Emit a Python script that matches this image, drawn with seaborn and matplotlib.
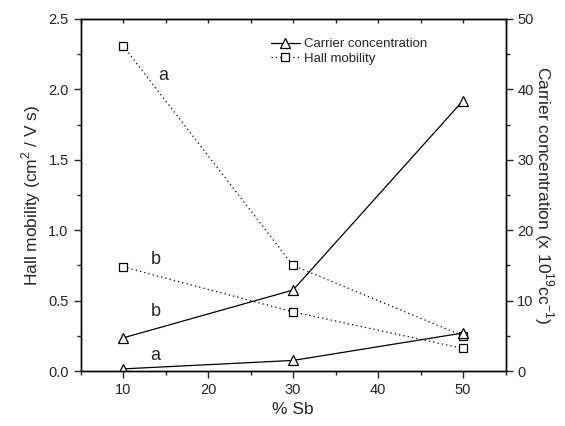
#!/usr/bin/env python3
"""
Hall mobility and carrier concentration vs. % Sb (two series each, a and b).
"""

import pandas as pd
import numpy as np
import matplotlib

matplotlib.use("Agg")
import matplotlib.pyplot as plt
from matplotlib.ticker import MultipleLocator, FormatStrFormatter
from matplotlib.lines import Line2D
import seaborn as sns

# Data
sb_percent = [10, 30, 50]
hall_a = [2.31, 0.75, 0.25]
hall_b = [0.74, 0.42, 0.16]
carrier_a = [0.3, 1.5, 5.4]
carrier_b = [4.7, 11.5, 38.4]

sns.set_style("ticks")
plt.rcParams["font.family"] = ["Liberation Sans", "DejaVu Sans"]
plt.rcParams["mathtext.fontset"] = "custom"
plt.rcParams["mathtext.rm"] = "Liberation Sans"

fig = plt.figure(figsize=(5.65, 4.26), dpi=100)
ax = fig.add_axes([0.1425, 0.1291, 0.7522, 0.8263])
ax2 = ax.twinx()

hall_style = dict(color="black", linewidth=0.9, dashes=(1, 2.5), marker="s",
                  markersize=5.5, markerfacecolor="white", markeredgecolor="black",
                  markeredgewidth=0.9)
carrier_style = dict(color="black", linewidth=0.9, linestyle="-", marker="^",
                     markersize=6.5, markerfacecolor="white", markeredgecolor="black",
                     markeredgewidth=0.9)

for y in (hall_a, hall_b):
    sns.lineplot(x=sb_percent, y=y, ax=ax, **hall_style)
for y in (carrier_a, carrier_b):
    sns.lineplot(x=sb_percent, y=y, ax=ax2, **carrier_style)

ax.set_xlim(5, 55)
ax.set_ylim(0, 2.5)
ax2.set_ylim(0, 50)

ax.xaxis.set_major_locator(MultipleLocator(10))
ax.xaxis.set_minor_locator(MultipleLocator(5))
ax.yaxis.set_major_locator(MultipleLocator(0.5))
ax.yaxis.set_minor_locator(MultipleLocator(0.25))
ax2.yaxis.set_major_locator(MultipleLocator(10))
ax2.yaxis.set_minor_locator(MultipleLocator(5))
ax.yaxis.set_major_formatter(FormatStrFormatter("%.1f"))

for a in (ax, ax2):
    for s in a.spines.values():
        s.set_visible(True)
        s.set_linewidth(1.0)
        s.set_color("black")
ax.tick_params(which="major", length=5, width=1, labelsize=10.5, direction="out")
ax.tick_params(which="minor", length=3, width=1, direction="out")
ax.tick_params(axis="x", which="both", top=False)
ax2.tick_params(which="major", length=5, width=1, labelsize=10.5, direction="out")
ax2.tick_params(which="minor", length=3, width=1, direction="out")

# small inward ticks along the top spine
top = ax.secondary_xaxis("top")
top.xaxis.set_major_locator(MultipleLocator(5))
top.tick_params(direction="in", length=3, width=1, labeltop=False)

ax.set_xlabel("% Sb", fontsize=12.5)
ax.set_ylabel("Hall mobility (cm$^2$ / V s)", fontsize=12.5)
ax2.set_ylabel("Carrier concentration (x 10$^{19}$cc$^{-1}$)", fontsize=12.5,
               rotation=270, labelpad=16)

# Series labels
ax.text(14.7, 2.10, "a", fontsize=13, ha="center", va="center")
ax.text(13.8, 0.79, "b", fontsize=13, ha="center", va="center")
ax.text(13.8, 0.42, "b", fontsize=13, ha="center", va="center")
ax.text(13.8, 0.11, "a", fontsize=13, ha="center", va="center")

handles = [Line2D([], [], **carrier_style), Line2D([], [], **hall_style)]
ax.legend(handles, ["Carrier concentration", "Hall mobility"], frameon=False,
          loc="upper left", bbox_to_anchor=(0.42, 0.98), fontsize=9.5,
          handlelength=2.2, handletextpad=0.3, labelspacing=0.2)

fig.savefig("out.png", dpi=100, facecolor="white")
plt.close(fig)
